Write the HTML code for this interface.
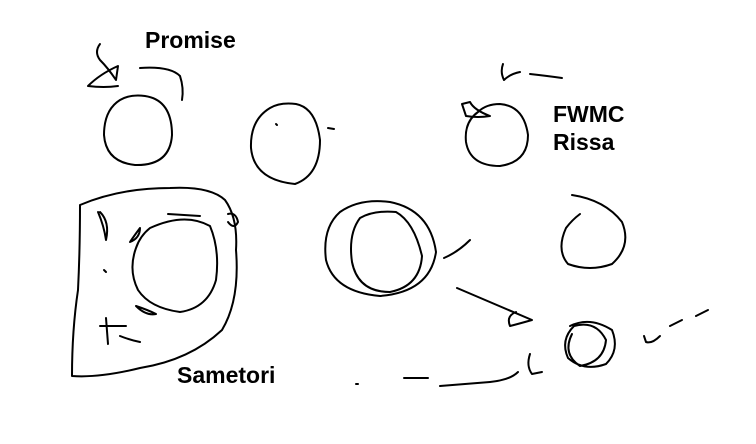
<!DOCTYPE html>
<html><head><meta charset="utf-8"><style>
html,body{margin:0;padding:0;background:#fff;}
svg{display:block}
text{font-family:"Liberation Sans",sans-serif;font-weight:bold;font-size:23px;fill:#000}
</style></head><body>
<svg width="756" height="444" viewBox="0 0 756 444" xmlns="http://www.w3.org/2000/svg">
<g fill="none" stroke="#000" stroke-width="2" stroke-linecap="round" stroke-linejoin="round">
<path d="M100,44 Q94,52 100,60 Q108,68 116,80 L118,66 Q100,74 88,86 Q104,88 118,86"/>
<path d="M140,68 Q170,66 180,76 Q184,88 182,100"/>
<path d="M120,100 Q104,110 104,135 Q106,162 135,165 Q170,166 172,135 Q172,100 145,96 Q130,94 120,100"/>
<path d="M270,108 Q250,120 251,148 Q254,180 295,184 Q320,175 320,140 Q316,108 296,104 Q280,102 270,108"/>
<path d="M276,124 L277,125"/>
<path d="M328,128 L334,129"/>
<path d="M503,64 Q500,72 504,80 Q510,74 520,72"/>
<path d="M530,74 Q548,76 562,78"/>
<path d="M478,112 Q464,122 466,142 Q470,166 500,166 Q528,162 528,135 Q524,106 500,104 Q486,104 478,112"/>
<path d="M462,104 L466,116 Q478,118 490,116 Q474,110 470,102 Z"/>
<path d="M572,195 Q605,200 622,222 Q632,246 612,264 Q590,272 568,264 Q556,250 566,228 Q572,220 580,214"/>
<path d="M80,205 Q120,188 170,188 Q210,186 225,200 Q238,218 236,250 Q240,300 222,330 Q190,360 140,368 Q100,378 72,376 Q72,330 78,290 Q80,250 80,205"/>
<path d="M168,214 L200,216"/>
<path d="M98,212 Q104,226 106,240 Q110,222 100,212"/>
<path d="M140,228 Q134,236 130,242 Q140,238 140,228"/>
<path d="M228,214 Q236,212 238,222 Q234,230 228,222"/>
<path d="M136,306 Q148,310 156,314 Q146,316 136,306"/>
<path d="M100,326 L126,326 M106,318 L108,344 M120,336 Q130,340 140,342"/>
<path d="M104,270 L106,272"/>
<path d="M150,228 Q185,212 210,226 Q220,250 216,280 Q208,308 180,312 Q150,308 138,290 Q128,270 136,248 Q140,236 150,228"/>
<path d="M340,212 Q322,228 326,260 Q334,292 380,296 Q430,292 436,252 Q430,210 390,202 Q360,198 340,212"/>
<path d="M360,218 Q348,234 352,262 Q358,292 390,292 Q420,286 422,256 Q414,222 396,212 Q374,210 360,218"/>
<path d="M444,258 Q458,252 470,240"/>
<path d="M457,288 L532,320 Q518,324 510,326 Q506,316 516,312"/>
<path d="M570,326 Q590,316 612,330 Q620,350 606,364 Q584,372 568,358 Q560,340 574,326 Q596,320 606,340 Q604,362 580,366 Q562,354 572,334"/>
<path d="M644,336 L646,342 Q652,344 660,336"/>
<path d="M670,326 L682,320"/>
<path d="M696,316 L708,310"/>
<path d="M530,354 Q526,366 532,374 L542,372"/>
<path d="M440,386 L490,382 Q510,380 518,372"/>
<path d="M404,378 L428,378"/>
<path d="M356,384 L358,384"/>
</g>
<text x="145" y="48">Promise</text>
<text x="553" y="122">FWMC</text>
<text x="553" y="150">Rissa</text>
<text x="177" y="383">Sametori</text>
</svg>
</body></html>
